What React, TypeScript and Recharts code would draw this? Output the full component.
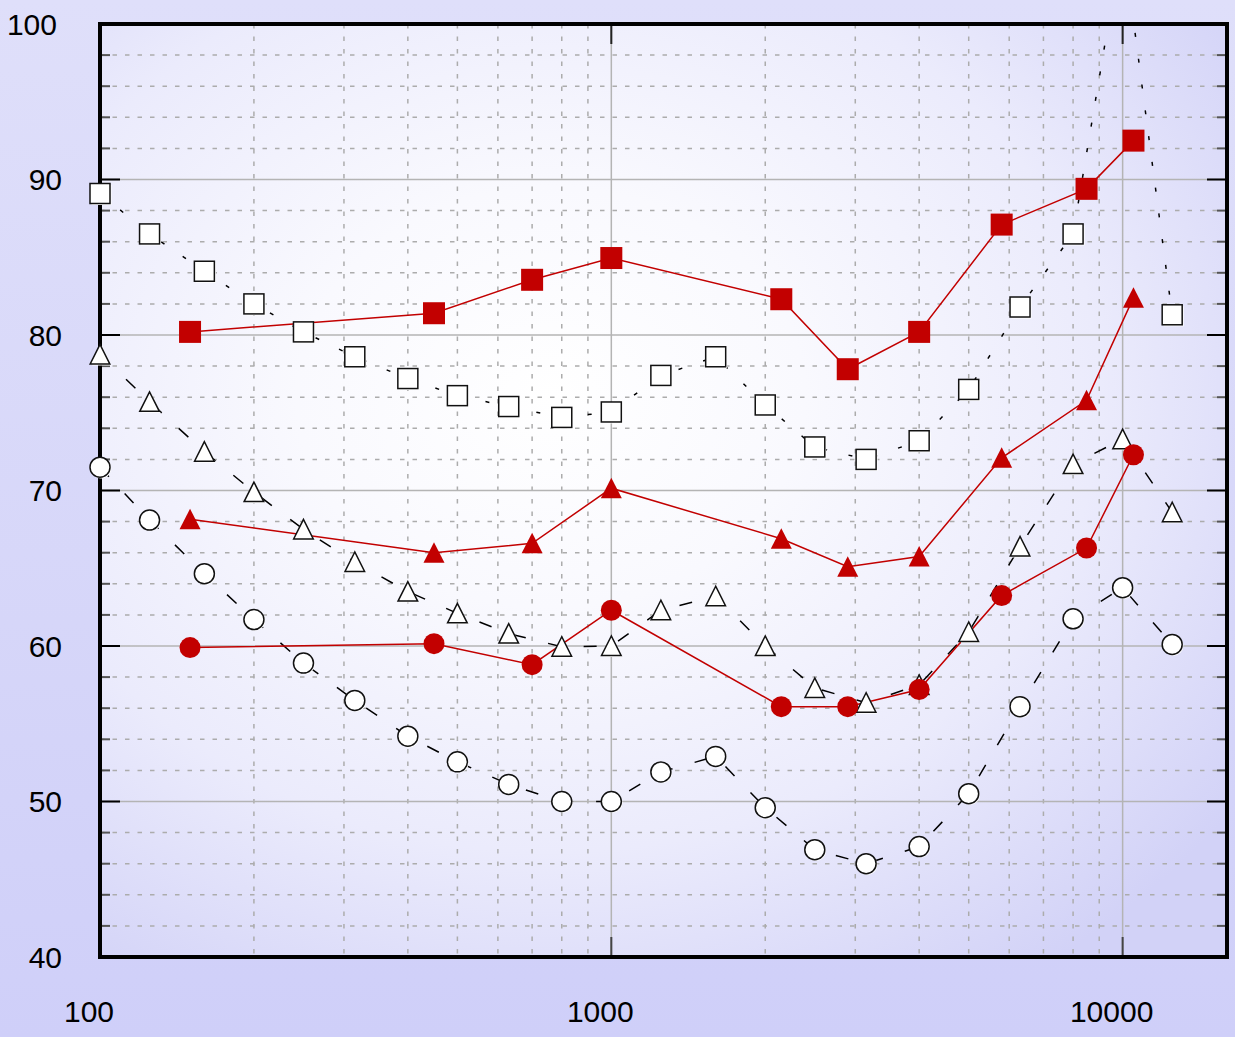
import React from 'react';
import { LineChart, Line, XAxis, YAxis, CartesianGrid, ReferenceLine } from 'recharts';

// ---- data ----
const openFreqs = [100, 125, 160, 200, 250, 315, 400, 500, 630, 800, 1000, 1250, 1600, 2000, 2500, 3150, 4000, 5000, 6300, 8000, 10000, 12500];
const openSquares = [89.1, 86.5, 84.1, 82.0, 80.2, 78.6, 77.2, 76.1, 75.4, 74.7, 75.05, 77.4, 78.6, 75.5, 72.8, 72.0, 73.2, 76.5, 81.8, 86.5, 105.5, 81.3];
const openTriangles = [78.75, 75.7, 72.5, 69.9, 67.5, 65.4, 63.5, 62.1, 60.8, 59.95, 60.0, 62.3, 63.2, 60.0, 57.3, 56.35, 57.5, 60.9, 66.4, 71.7, 73.3, 68.6];
const openCircles = [71.5, 68.1, 64.65, 61.7, 58.9, 56.5, 54.2, 52.55, 51.1, 50.0, 50.0, 51.9, 52.9, 49.6, 46.9, 46.0, 47.1, 50.5, 56.1, 61.75, 63.75, 60.1];

const redFreqs = [150, 450, 700, 1000, 2150, 2900, 4000, 5800, 8500, 10500];
const redSquares = [80.2, 81.4, 83.55, 84.95, 82.3, 77.8, 80.2, 87.1, 89.4, 92.5];
const redTriangles = [68.15, 66.0, 66.6, 70.15, 66.9, 65.1, 65.75, 72.1, 75.8, 82.4];
const redCircles = [59.9, 60.15, 58.8, 62.3, 56.1, 56.1, 57.2, 63.25, 66.3, 72.3];

const xDomain = [100, 16000];
const yDomain = [40, 100];
const xMajorTicks = [100, 1000, 10000];
const xMinorTicks = [200, 300, 400, 500, 600, 700, 800, 900, 2000, 3000, 4000, 5000, 6000, 7000, 8000, 9000];
const yMajorTicks = [40, 50, 60, 70, 80, 90, 100];
const yMinorTicks = [42, 44, 46, 48, 52, 54, 56, 58, 62, 64, 66, 68, 72, 74, 76, 78, 82, 84, 86, 88, 92, 94, 96, 98];

const openData = openFreqs.map((f, i) => ({
  f,
  sq: openSquares[i],
  sqMark: openSquares[i] <= yDomain[1] ? openSquares[i] : null,
  tri: openTriangles[i],
  circ: openCircles[i],
}));
const redData = redFreqs.map((f, i) => ({ f, sq: redSquares[i], tri: redTriangles[i], circ: redCircles[i] }));

// ---- styles ----
const FONT = '"Liberation Sans", Arial, sans-serif';
const RED = '#c20000';
const MAJOR_GRID = '#b4b4b4';
const MINOR_GRID = '#acacac';

// ---- markers ----
const OpenSquare = (p: any) => {
  if (p.cx == null || p.cy == null) return <g key={`os-${p.index}`} />;
  return (
    <g key={`os-${p.index}`}>
      <rect x={p.cx - 8.5} y={p.cy - 8.5} width={20} height={20} fill="#fff" />
      <rect x={p.cx - 10} y={p.cy - 10} width={20} height={20} fill="#fff" stroke="#111" strokeWidth={1.5} />
    </g>
  );
};
const OpenTriangle = (p: any) => {
  if (p.cx == null || p.cy == null) return <g key={`ot-${p.index}`} />;
  const { cx, cy } = p;
  return (
    <g key={`ot-${p.index}`}>
      <polygon points={`${cx + 1.5},${cy - 8.5} ${cx - 8},${cy + 11} ${cx + 11},${cy + 11}`} fill="#fff" />
      <polygon points={`${cx},${cy - 10} ${cx - 9.8},${cy + 9.5} ${cx + 9.8},${cy + 9.5}`} fill="#fff" stroke="#111" strokeWidth={1.5} strokeLinejoin="miter" />
    </g>
  );
};
const OpenCircle = (p: any) => {
  if (p.cx == null || p.cy == null) return <g key={`oc-${p.index}`} />;
  return (
    <g key={`oc-${p.index}`}>
      <circle cx={p.cx + 1.2} cy={p.cy + 1.2} r={10} fill="#fff" />
      <circle cx={p.cx} cy={p.cy} r={10} fill="#fff" stroke="#111" strokeWidth={1.5} />
    </g>
  );
};
const RedSquare = (p: any) => {
  if (p.cx == null || p.cy == null) return <g key={`rs-${p.index}`} />;
  return <rect key={`rs-${p.index}`} x={p.cx - 11} y={p.cy - 11} width={22} height={22} fill={RED} />;
};
const RedTriangle = (p: any) => {
  if (p.cx == null || p.cy == null) return <g key={`rt-${p.index}`} />;
  const { cx, cy } = p;
  return <polygon key={`rt-${p.index}`} points={`${cx},${cy - 10.5} ${cx - 10.5},${cy + 10} ${cx + 10.5},${cy + 10}`} fill={RED} />;
};
const RedCircle = (p: any) => {
  if (p.cx == null || p.cy == null) return <g key={`rc-${p.index}`} />;
  return <circle key={`rc-${p.index}`} cx={p.cx} cy={p.cy} r={10.5} fill={RED} />;
};

// ---- grid shapes (drawn through ReferenceLine so the scales place them) ----
const hGridShape = (major: boolean) => (p: any) => {
  const left = Math.min(p.x1, p.x2);
  const right = Math.max(p.x1, p.x2);
  const y = p.y1;
  const tl = major ? 20 : 10;
  const tc = major ? '#000' : '#555';
  return (
    <g>
      <line x1={left} x2={right} y1={y} y2={y} stroke={major ? MAJOR_GRID : MINOR_GRID} strokeWidth={1.5} strokeDasharray={major ? undefined : '4.5 8'} />
      <line x1={left} x2={left + tl} y1={y} y2={y} stroke={tc} strokeWidth={2} />
      <line x1={right - tl} x2={right} y1={y} y2={y} stroke={tc} strokeWidth={2} />
    </g>
  );
};
const vGridShape = (major: boolean) => (p: any) => {
  const top = Math.min(p.y1, p.y2);
  const bottom = Math.max(p.y1, p.y2);
  const x = p.x1;
  return (
    <g>
      <line x1={x} x2={x} y1={top} y2={bottom} stroke={major ? MAJOR_GRID : MINOR_GRID} strokeWidth={1.5} strokeDasharray={major ? undefined : '4.5 8'} />
      {major && <line x1={x} x2={x} y1={top} y2={top + 20} stroke="#222" strokeWidth={2} />}
      {major && <line x1={x} x2={x} y1={bottom - 20} y2={bottom} stroke="#444" strokeWidth={2} />}
    </g>
  );
};

// ---- tick labels ----
const YTick = (p: any) => {
  const label = String(p.payload.value);
  const extra = label.length > 2 ? 5 : 0;
  return (
    <text x={p.x - 38 - extra} y={p.y} dy={10.7} textAnchor="end" fontSize={30} fontFamily={FONT} fill="#000">
      {label}
    </text>
  );
};
const XTick = (p: any) => (
  <text x={p.x - 11} y={p.y + 65} textAnchor="middle" fontSize={30} fontFamily={FONT} fill="#000">
    {String(p.payload.value)}
  </text>
);

export default function App() {
  return (
    <div
      style={{
        position: 'absolute',
        left: 0,
        top: 0,
        width: 1235,
        height: 1037,
        background: 'linear-gradient(180deg, #dfdffa 0%, #d6d6f9 60%, #cfcff9 100%)',
      }}
    >
      <LineChart width={1235} height={1037} margin={{ top: 24, right: 8, bottom: 0, left: 0 }}>
        <defs>
          <radialGradient id="plotBg" cx="0.4" cy="0.4" r="0.75" fx="0.4" fy="0.4">
            <stop offset="0" stopColor="#ffffff" />
            <stop offset="0.3" stopColor="#f9f9fe" />
            <stop offset="0.65" stopColor="#ebebfc" />
            <stop offset="1" stopColor="#d2d2f7" />
          </radialGradient>
        </defs>
        <CartesianGrid horizontal={false} vertical={false} fill="url(#plotBg)" fillOpacity={1} stroke="none" />
        <XAxis
          type="number"
          dataKey="f"
          scale="log"
          domain={xDomain}
          ticks={xMajorTicks}
          interval={0}
          height={80}
          tickSize={0}
          tickMargin={0}
          axisLine={false}
          tickLine={false}
          tick={XTick}
        />
        <YAxis
          type="number"
          domain={yDomain}
          ticks={yMajorTicks}
          interval={0}
          width={100}
          tickSize={0}
          tickMargin={0}
          axisLine={false}
          tickLine={false}
          tick={YTick}
        />
        <YAxis yAxisId="clip" type="number" domain={yDomain} allowDataOverflow hide />

        {yMinorTicks.map((v) => (
          <ReferenceLine key={`hm-${v}`} y={v} shape={hGridShape(false)} />
        ))}
        {xMinorTicks.map((v) => (
          <ReferenceLine key={`vm-${v}`} x={v} shape={vGridShape(false)} />
        ))}
        {yMajorTicks.map((v) => (
          <ReferenceLine key={`hM-${v}`} y={v} shape={hGridShape(true)} />
        ))}
        {xMajorTicks.map((v) => (
          <ReferenceLine key={`vM-${v}`} x={v} shape={vGridShape(true)} />
        ))}
        <ReferenceLine x={xDomain[0]} stroke="#000" strokeWidth={4} strokeLinecap="square" />
        <ReferenceLine x={xDomain[1]} stroke="#000" strokeWidth={4} strokeLinecap="square" />
        <ReferenceLine y={yDomain[0]} stroke="#000" strokeWidth={4} strokeLinecap="square" />
        <ReferenceLine y={yDomain[1]} stroke="#000" strokeWidth={4} strokeLinecap="square" />

        {/* open series */}
        <Line data={openData} dataKey="sq" yAxisId="clip" type="linear" stroke="#000" strokeWidth={1.5} strokeDasharray="4 22" dot={false} activeDot={false} isAnimationActive={false} />
        <Line data={openData} dataKey="tri" type="linear" stroke="#000" strokeWidth={1.5} strokeDasharray="13 23" dot={OpenTriangle} activeDot={false} isAnimationActive={false} />
        <Line data={openData} dataKey="circ" type="linear" stroke="#000" strokeWidth={1.5} strokeDasharray="13 23" dot={OpenCircle} activeDot={false} isAnimationActive={false} />
        <Line data={openData} dataKey="sqMark" type="linear" stroke="none" dot={OpenSquare} activeDot={false} isAnimationActive={false} />

        {/* red series */}
        <Line data={redData} dataKey="sq" type="linear" stroke={RED} strokeWidth={1.5} dot={RedSquare} activeDot={false} isAnimationActive={false} />
        <Line data={redData} dataKey="tri" type="linear" stroke={RED} strokeWidth={1.5} dot={RedTriangle} activeDot={false} isAnimationActive={false} />
        <Line data={redData} dataKey="circ" type="linear" stroke={RED} strokeWidth={1.5} dot={RedCircle} activeDot={false} isAnimationActive={false} />
      </LineChart>
    </div>
  );
}
